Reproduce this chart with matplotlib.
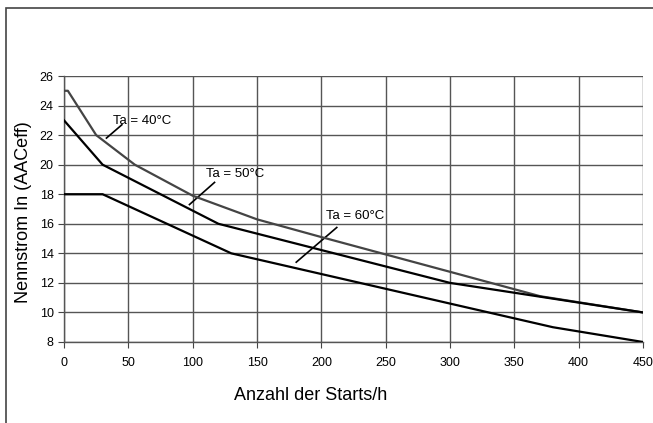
import matplotlib.pyplot as plt
from matplotlib.patches import Rectangle

# Kennlinien: Nennstrom abhängig von der Anzahl der Starts pro Stunde
starts_40 = [0, 3, 25, 55, 100, 150, 200, 300, 370, 450]
strom_40 = [25, 25, 22, 20, 17.9, 16.3, 15.1, 12.75, 11.1, 10]
starts_50 = [0, 30, 120, 300, 450]
strom_50 = [23, 20, 16, 12, 10]
starts_60 = [0, 30, 130, 300, 380, 450]
strom_60 = [18, 18, 14, 10.6, 9, 8]

x_ticks = [0, 50, 100, 150, 200, 250, 300, 350, 400, 450]
y_ticks = [8, 10, 12, 14, 16, 18, 20, 22, 24, 26]

plt.rcParams['font.family'] = ['Liberation Sans', 'DejaVu Sans']

fig = plt.figure(figsize=(6.53, 4.23), dpi=100, facecolor='w')
ax = fig.add_axes([64/653, 1 - 342/423, 579/653, 266/423])

ax.plot(starts_40, strom_40, color='#444444', lw=1.6, zorder=3)
ax.plot(starts_50, strom_50, color='black', lw=1.6, zorder=3)
ax.plot(starts_60, strom_60, color='black', lw=1.6, zorder=3)

# Beschriftungen mit Hinweislinien
ax.text(38, 22.95, 'Ta = 40°C', fontsize=9.5, va='center', ha='left')
ax.plot([45, 33], [22.7, 21.8], color='black', lw=1.2)
ax.text(110, 19.4, 'Ta = 50°C', fontsize=9.5, va='center', ha='left')
ax.plot([117, 97.5], [18.8, 17.3], color='black', lw=1.2)
ax.text(204, 16.5, 'Ta = 60°C', fontsize=9.5, va='center', ha='left')
ax.plot([212, 180.5], [15.75, 13.4], color='black', lw=1.2)

ax.set_xlim(0, 450)
ax.set_ylim(8, 26)
ax.set_xticks(x_ticks)
ax.set_yticks(y_ticks)
ax.tick_params(labelsize=9, length=4, width=0.8, color='#444444')
ax.tick_params(axis='x', pad=7)
ax.grid(True, color='#555555', lw=1)
ax.set_axisbelow(True)
for spine in ('top', 'right'):
    ax.spines[spine].set_visible(False)
for spine in ('bottom', 'left'):
    ax.spines[spine].set_color('#555555')
    ax.spines[spine].set_linewidth(1)

fig.text(24/653, 1 - 212/423, 'Nennstrom In (AACeff)', rotation=90,
         fontsize=13, ha='center', va='center')
fig.text(311/653, 1 - 395/423, 'Anzahl der Starts/h', fontsize=13,
         ha='center', va='center')

# äußerer Rahmen (rechts und unten abgeschnitten)
fig.patches.append(Rectangle((6/653, -0.1), 1.2, 1 - 8/423 + 0.1,
                             transform=fig.transFigure, fill=False,
                             edgecolor='#444444', lw=1.2))

plt.savefig('out.png', dpi=100)
